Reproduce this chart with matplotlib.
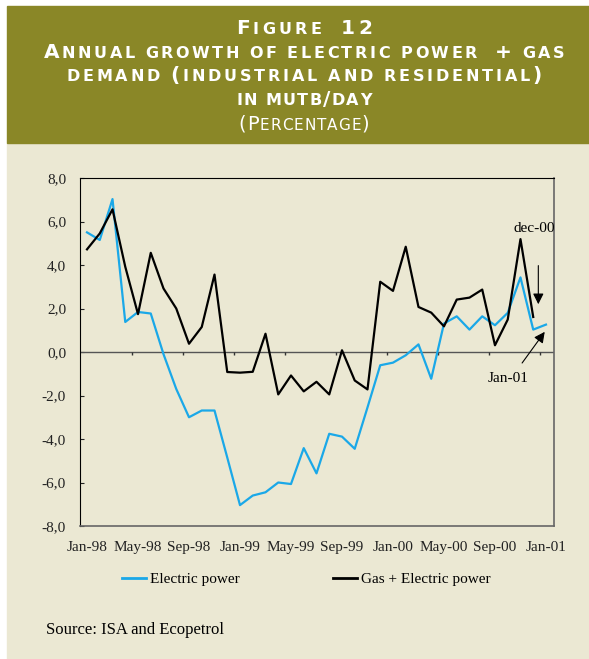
import matplotlib.pyplot as plt
from matplotlib.lines import Line2D
from matplotlib.patches import Rectangle
from matplotlib.transforms import IdentityTransform

# monthly data, Jan-98 .. Jan-01
electric = [5.50, 5.15, 7.03, 1.38, 1.84, 1.77, -0.10, -1.70, -3.00, -2.69,
            -2.69, -4.85, -7.04, -6.60, -6.45, -6.00, -6.07, -4.42, -5.58, -3.76,
            -3.89, -4.45, -2.55, -0.61, -0.49, -0.15, 0.35, -1.23, 1.31, 1.64,
            1.03, 1.64, 1.23, 1.80, 3.43, 1.03, 1.26]
gas_electric = [4.72, 5.45, 6.56, 3.92, 1.74, 4.56, 2.92, 2.00, 0.38, 1.15,
                3.56, -0.92, -0.95, -0.91, 0.84, -1.95, -1.08, -1.81, -1.37, -1.95,
                0.08, -1.31, -1.72, 3.23, 2.81, 4.84, 2.07, 1.81, 1.18, 2.41,
                2.50, 2.87, 0.31, 1.49, 5.19, 1.61]
tick_labels = ['Jan-98', 'May-98', 'Sep-98', 'Jan-99', 'May-99', 'Sep-99',
               'Jan-00', 'May-00', 'Sep-00', 'Jan-01']
y_ticks = [-8, -6, -4, -2, 0, 2, 4, 6, 8]

W, H = 589, 659
BLUE = '#1aa8e8'
OLIVE = '#8a8727'
BEIGE = '#ebe8d3'
serif = 'Liberation Serif'

fig = plt.figure(figsize=(W / 100, H / 100), dpi=100, facecolor='white')
fig.add_artist(Rectangle((7 / W, 0), 1, 1 - 143 / H, transform=fig.transFigure,
                         color=BEIGE, zorder=-10))
fig.add_artist(Rectangle((7 / W, 1 - 143 / H), 1, 137 / H, transform=fig.transFigure,
                         color=OLIVE, zorder=-10))


def small_caps(y_base, text, width, big, small, weight='bold', xc=304):
    # fake small caps: upper case letters, lower case drawn smaller, spread to width
    r = fig.canvas.get_renderer()
    items = []
    for ch in text:
        if ch == ' ':
            items.append((None, small * 100 / 72 * 0.32))
            continue
        size = small if ch.islower() else big
        t = fig.text(0, 0, ch.upper(), fontsize=size, fontweight=weight, color='white',
                     family='DejaVu Sans', va='baseline', ha='left',
                     transform=IdentityTransform())
        items.append((t, t.get_window_extent(r).width))
    natural = sum(w for _, w in items)
    track = (width - natural) / (len(items) - 1)
    x = xc - width / 2
    for t, w in items:
        if t is not None:
            t.set_position((x, H - y_base))
        x += w + track


small_caps(34, 'Figure  12', 136, 14.5, 11.5)
small_caps(58, 'Annual growth of electric power  + gas', 521, 14.5, 11.5)
small_caps(81, 'demand (industrial and residential)', 476, 14.5, 11.5)
small_caps(105, 'in mutb/day', 135, 14.5, 11.5)
small_caps(130, '(Percentage)', 131, 14, 11, weight='normal')

ax = fig.add_axes([80 / W, 1 - 526 / H, (554 - 80) / W, (526 - 178) / H])
ax.set_facecolor('none')
x = list(range(len(electric)))
ax.plot(x, electric, color=BLUE, lw=1.6, label='Electric power', zorder=3)
ax.plot(x[:len(gas_electric)], gas_electric, color='black', lw=1.6,
        label='Gas + Electric power', zorder=4)

ax.axhline(0, color='#555555', lw=1, zorder=2)
ax.vlines([3.5 + 4 * i for i in range(9)], -0.15, 0, color='#333333', lw=1, zorder=2)

ax.set_xlim(-0.55, 36.63)
ax.set_ylim(-8, 8)
ax.set_xticks(range(0, 37, 4), tick_labels, fontsize=11, family=serif)
ax.set_yticks(y_ticks, [('%.1f' % v).replace('.', ',') for v in y_ticks],
              fontsize=11, family=serif)
ax.tick_params(axis='x', length=0, pad=11, colors='#222222')
ax.tick_params(axis='y', direction='in', length=3, pad=10, colors='#222222')
for side in ['top', 'left']:
    ax.spines[side].set_color('black')
for side in ['right', 'bottom']:
    ax.spines[side].set_color('#666666')
    ax.spines[side].set_linewidth(1.2)

ax.annotate('', xy=(35.4, 2.07), xytext=(35.4, 4.10),
            arrowprops=dict(arrowstyle='-|>', color='black', lw=0.8, mutation_scale=16))
ax.text(35.09, 5.70, 'dec-00', ha='center', va='center', fontsize=11, family=serif)
ax.annotate('', xy=(36.03, 1.03), xytext=(34.0, -0.61),
            arrowprops=dict(arrowstyle='-|>', color='black', lw=0.8, mutation_scale=16))
ax.text(33.0, -1.23, 'Jan-01', ha='center', va='center', fontsize=11, family=serif)

handles = [Line2D([], [], color=BLUE, lw=2), Line2D([], [], color='black', lw=2)]
fig.legend(handles, ['Electric power', 'Gas + Electric power'], loc='center left',
           bbox_to_anchor=(122 / W, 1 - 579 / H), bbox_transform=fig.transFigure,
           ncol=2, frameon=False, borderpad=0, borderaxespad=0, handlelength=1.57,
           handletextpad=0.26, columnspacing=6.1, prop=dict(family=serif, size=11))
fig.text(46 / W, 1 - 630 / H, 'Source: ISA and Ecopetrol', va='center',
         fontsize=12, family=serif)

fig.savefig('out.png', dpi=100, facecolor=fig.get_facecolor())
